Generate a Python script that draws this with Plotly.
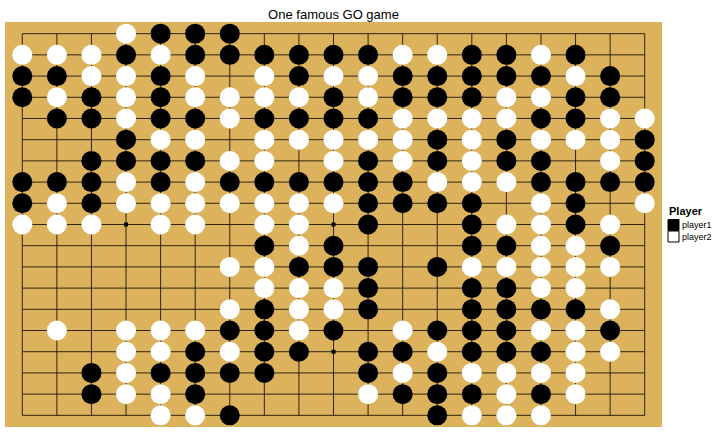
import plotly.graph_objects as go

# Board state: row 1 at top, columns 1..19 left to right. B = player1, W = player2
board_rows = [
    "...WBBB............",
    "WWWBWBBBBBBWWBBWB..",
    "BBWWBW.WBWWBBBBBWB.",
    "BWBWBWWWWBWBBBWWBB.",
    ".BBWBBWBBBBWWWWBBWW",
    "...BWW.WWWWWBWBWWWB",
    "..BBBBWW.WBWBWBB.WB",
    "BBBWBWBBBBBBWWWBBBB",
    "BWBWWWWWWWBBBB.WB.W",
    "WWW.WW.WW.B..BWWBW.",
    ".......BWB...BBWWB.",
    "......WWBBB.BWWWWW.",
    ".......WWWB..BBWW..",
    "......WBWWB..BBBBW.",
    ".W.WWWBBWB.WBBBWWB.",
    "...WWBWBB.BBWBBBWW.",
    "..BWBBBB..BWBWWWW..",
    "..BWWB....WBBBWBW..",
    "....WWB.....BWWW...",
]
hoshi = [4, 10, 16]
players = ["player1", "player2"]
player_codes = {"player1": "B", "player2": "W"}
player_colors = {"player1": "black", "player2": "white"}
n = 19

W, H = 720, 432
ML, MR, MT, MB = 5, 58, 22, 5
pw, ph = W - ML - MR, H - MT - MB


def px_x(x):
    return (x - ML) / pw


def px_y(y):
    return 1 - (y - MT) / ph


fig = go.Figure()

# grid lines
gx, gy = [], []
for i in range(1, n + 1):
    gx += [1, n, None]
    gy += [i, i, None]
    gx += [i, i, None]
    gy += [1, n, None]
fig.add_trace(go.Scatter(x=gx, y=gy, mode="lines",
                         line=dict(color="rgba(20,12,0,0.85)", width=1),
                         hoverinfo="skip", showlegend=False))

# star points
hx = [a for a in hoshi for b in hoshi]
hy = [b for a in hoshi for b in hoshi]
fig.add_trace(go.Scatter(x=hx, y=hy, mode="markers",
                         marker=dict(symbol="square", size=4, color="black"),
                         hoverinfo="skip", showlegend=False))

# stones
for p in players:
    xs, ys = [], []
    for r, row in enumerate(board_rows, start=1):
        for c, ch in enumerate(row, start=1):
            if ch == player_codes[p]:
                xs.append(c)
                ys.append(r)
    fig.add_trace(go.Scatter(x=xs, y=ys, mode="markers", name=p,
                             marker=dict(size=20, color=player_colors[p],
                                         line=dict(width=0)),
                             showlegend=False))

# manual legend (ggplot-style)
shapes = []
annotations = [dict(text="<b>Player</b>", xref="paper", yref="paper",
                    x=px_x(667), y=px_y(211), xanchor="left", yanchor="middle",
                    showarrow=False, font=dict(size=11))]
key_top = 219.5
for k, p in enumerate(players):
    y0 = key_top + k * 11.5
    shapes.append(dict(type="rect", xref="paper", yref="paper",
                       x0=px_x(668), x1=px_x(679), y0=px_y(y0), y1=px_y(y0 + 11),
                       fillcolor=player_colors[p],
                       line=dict(color="black", width=1)))
    annotations.append(dict(text=p, xref="paper", yref="paper",
                            x=px_x(680), y=px_y(y0 + 5.5), xanchor="left",
                            yanchor="middle", showarrow=False,
                            font=dict(size=9)))

fig.update_layout(
    width=W, height=H,
    margin=dict(l=ML, r=MR, t=MT, b=MB, autoexpand=False),
    paper_bgcolor="white",
    plot_bgcolor="#DCB35C",
    font=dict(family="Liberation Sans, Arial, sans-serif", color="black"),
    title=dict(text="One famous GO game", x=(ML + W - MR) / 2 / W, xanchor="center",
               y=1 - 14 / H, yanchor="middle", font=dict(size=13)),
    xaxis=dict(range=[0.5, 19.5], showgrid=False, zeroline=False,
               showticklabels=False, ticks=""),
    yaxis=dict(range=[19.55, 0.45], showgrid=False, zeroline=False,
               showticklabels=False, ticks=""),
    showlegend=False,
    shapes=shapes,
    annotations=annotations,
)

fig.write_html("out.html")
